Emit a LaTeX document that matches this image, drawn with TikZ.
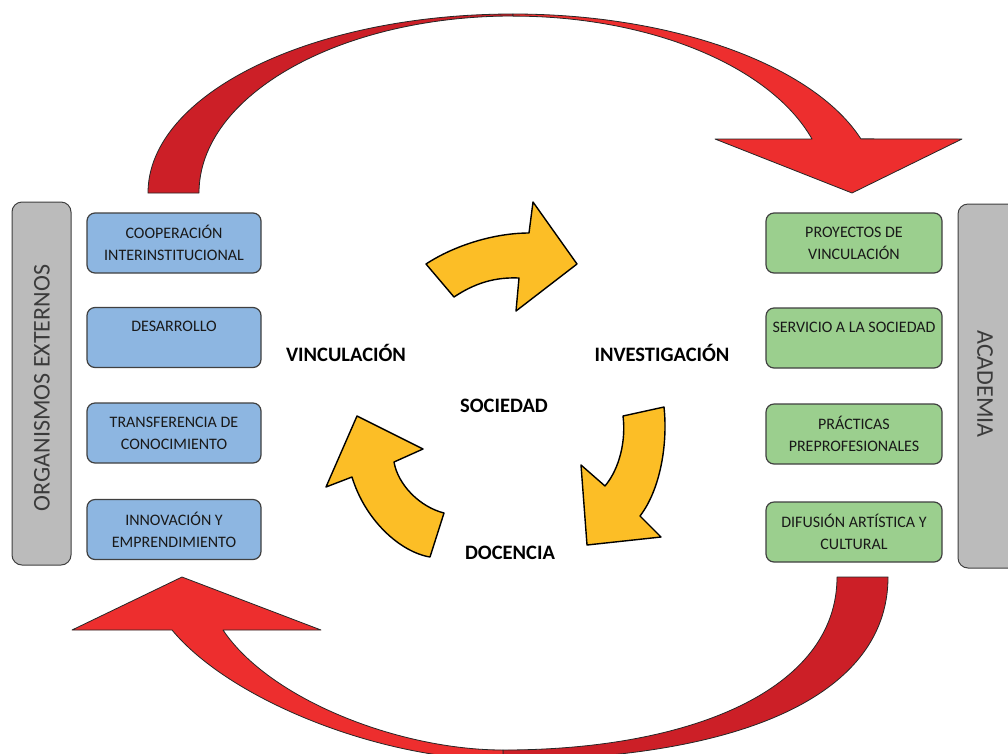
\documentclass[tikz,border=0pt]{standalone}
\usepackage{fontspec}
\setmainfont{Carlito}
\definecolor{darkred}{RGB}{204,31,39}
\definecolor{litered}{RGB}{237,46,46}
\definecolor{yel}{RGB}{252,190,38}
\definecolor{bluefill}{RGB}{141,182,225}
\definecolor{greenfill}{RGB}{155,207,142}
\definecolor{barfill}{RGB}{187,187,187}
\definecolor{edgecol}{RGB}{64,64,64}
\definecolor{txt}{RGB}{25,25,25}
\begin{document}
\begin{tikzpicture}[x=1pt,y=-1pt,
  boxbase/.style={draw=edgecol, line width=1.2pt, rounded corners=8pt, minimum height=60pt, align=center, inner sep=0pt, text=txt, font=\fontsize{16}{22}\selectfont},
  bluebox/.style={boxbase, fill=bluefill, minimum width=174pt},
  greenbox/.style={boxbase, fill=greenfill, minimum width=176pt},
  sidebar/.style={draw=edgecol, line width=1pt, fill=barfill, rounded corners=10pt},
  bartext/.style={text=txt!85, font=\fontsize{24}{28}\selectfont, inner sep=0pt},
  lbl/.style={text=black, font=\fontsize{20.5}{24}\bfseries\selectfont, inner sep=0pt},
  redarrow/.style={draw=black!85, line width=0.8pt, line join=round},
  yelarrow/.style={fill=yel, draw=black, line width=1.4pt, line join=round}
]
\clip (0,0) rectangle (1008,753);
\fill[white] (0,0) rectangle (1008,753);

% side bars
\draw[sidebar] (12,202) rectangle (71,565);
\node[bartext, rotate=90] (org) at (42,388) {ORGANISMOS EXTERNOS};
\draw[sidebar] (958,204) rectangle (1030,568);
\node[bartext, rotate=-90] (acad) at (985,384) {ACADEMIA};

% left boxes
\node[bluebox] (b1) at (174,243) {COOPERACIÓN\\INTERINSTITUCIONAL};
\node[bluebox] (b2) at (174,337.5) {DESARROLLO\\\phantom{X}};
\node[bluebox] (b3) at (174,433) {TRANSFERENCIA DE\\CONOCIMIENTO};
\node[bluebox] (b4) at (174,529.5) {INNOVACIÓN Y\\EMPRENDIMIENTO};

% right boxes
\node[greenbox] (g1) at (854,243) {PROYECTOS DE\\VINCULACIÓN};
\node[greenbox] (g2) at (854,338) {SERVICIO A LA SOCIEDAD\\\phantom{X}};
\node[greenbox] (g3) at (854,434) {PRÁCTICAS\\PREPROFESIONALES};
\node[greenbox] (g4) at (854,532) {DIFUSIÓN ARTÍSTICA Y\\CULTURAL};

% top red arrow
\path[redarrow, fill=darkred] (148,193) arc[start angle=180, end angle=270, x radius=365, y radius=179]
  -- (513,16) arc[start angle=270, end angle=180, x radius=314, y radius=177] -- cycle;
\path[redarrow, fill=litered] (513,14) arc[start angle=270, end angle=342.4, x radius=365, y radius=179]
  -- (962,139) -- (852,193) -- (715,139) -- (812,139)
  arc[start angle=342.2, end angle=270, x radius=314, y radius=177] -- cycle;

% bottom red arrow
\path[redarrow, fill=darkred] (888,577) .. controls (888,700) and (730,760) .. (503,760)
  -- (503,750) .. controls (690,750) and (837,690) .. (837,577) -- cycle;
\path[redarrow, fill=litered] (503,760) .. controls (380,760) and (230,700) .. (172,630)
  -- (72,630) -- (182,577) -- (321,630) -- (223,630)
  .. controls (270,700) and (400,750) .. (503,750) -- cycle;

% yellow cycle arrows
\path[yelarrow] (426,264) -- (454,297) .. controls (475,283) and (495,277) .. (519,278)
  -- (516,311) -- (577,264) -- (533,202) -- (529,233)
  .. controls (495,233) and (455,245) .. (426,264) -- cycle;
\path[yelarrow] (623,416) -- (664,407) .. controls (668,445) and (660,490) .. (640,516)
  -- (661,537) -- (587,545) -- (581,465) -- (605,486)
  .. controls (620,468) and (626,440) .. (623,416) -- cycle;
\path[yelarrow] (444,513) -- (430,557) .. controls (400,552) and (365,520) .. (352,477)
  -- (326,487) -- (357,416) -- (423,449) -- (394,462)
  .. controls (398,485) and (420,507) .. (444,513) -- cycle;

% labels
\node[lbl] (vin) at (346,353) {VINCULACIÓN};
\node[lbl] (inv) at (662,353) {INVESTIGACIÓN};
\node[lbl] (soc) at (504,406) {SOCIEDAD};
\node[lbl] (doc) at (510,553) {DOCENCIA};
\end{tikzpicture}
\end{document}
